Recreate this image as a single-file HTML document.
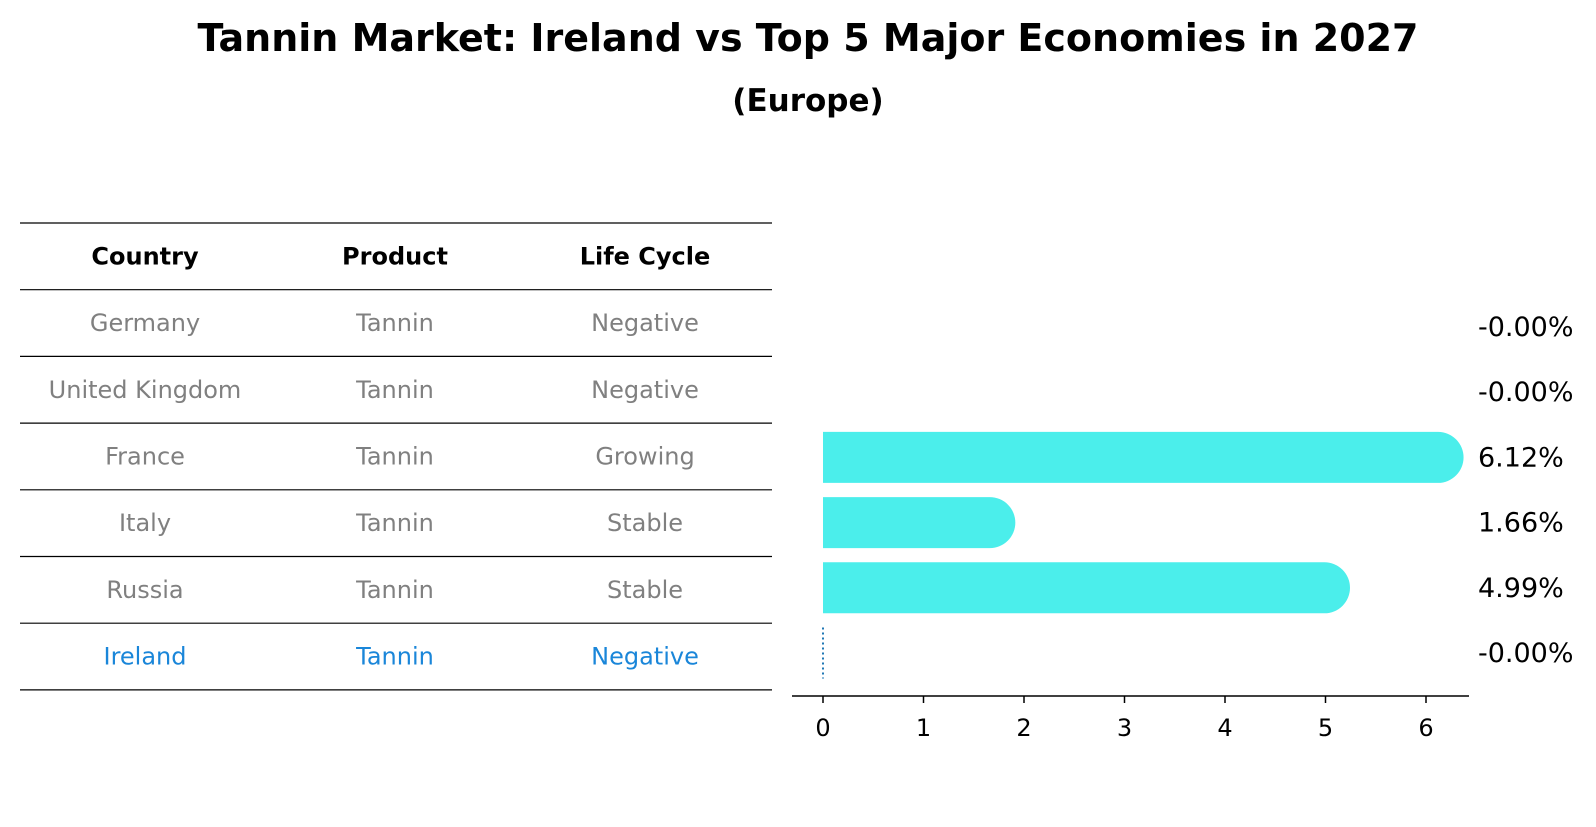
<!DOCTYPE html>
<html><head><meta charset="utf-8"><style>
body{margin:0;background:#fff;font-family:"DejaVu Sans","Liberation Sans",sans-serif}
</style></head><body>
<svg width="1596" height="823" xmlns="http://www.w3.org/2000/svg" font-family="DejaVu Sans, Liberation Sans, sans-serif">
<text x="808" y="51" text-anchor="middle" font-size="38" font-weight="bold">Tannin Market: Ireland vs Top 5 Major Economies in 2027</text>
<text x="808" y="111" text-anchor="middle" font-size="31" font-weight="bold">(Europe)</text>
<g id="table"></g>
<g id="plot"></g>
</svg>
<script>
const countries=["Germany","United Kingdom","France","Italy","Russia","Ireland"];
const products=["Tannin","Tannin","Tannin","Tannin","Tannin","Tannin"];
const lifeCycle=["Negative","Negative","Growing","Stable","Stable","Negative"];
const values=[-0.00,-0.00,6.12,1.66,4.99,-0.00];
const valueLabels=["-0.00%","-0.00%","6.12%","1.66%","4.99%","-0.00%"];
const ticks=[0,1,2,3,4,5,6];
const NS="http://www.w3.org/2000/svg";
function mk(t,a,p){const e=document.createElementNS(NS,t);for(const k in a)e.setAttribute(k,a[k]);p.appendChild(e);return e;}
const tb=document.getElementById('table');
const lineY=i=>223+i*66.7;
for(let i=0;i<8;i++){const l=mk('line',{x1:20,x2:772,y1:lineY(i),y2:lineY(i),stroke:'#000','stroke-width':1.2},tb);

}
const colX=[145,395,645];
["Country","Product","Life Cycle"].forEach((h,j)=>{const t=mk('text',{x:colX[j],y:(lineY(0)+lineY(1))/2+8,'text-anchor':'middle','font-size':24,'font-weight':'bold'},tb);t.textContent=h;

});
countries.forEach((c,i)=>{const row=[c,products[i],lifeCycle[i]];const col=c==="Ireland"?"#1a86d9":"#808080";
row.forEach((v,j)=>{const t=mk('text',{x:colX[j],y:(lineY(i+1)+lineY(i+2))/2+8,'text-anchor':'middle','font-size':24,fill:col},tb);t.textContent=v;

});});
const pl=document.getElementById('plot');
const x0=823,unit=100.5;const X=v=>x0+v*unit;
const rowY=i=>327+i*65.2;
const bh=51,r=25.5;
values.forEach((v,i)=>{const cy=rowY(i);
if(Math.abs(v)<0.005){if(countries[i]==="Ireland"){const l=mk('line',{x1:X(0),x2:X(0),y1:cy-bh/2,y2:cy+bh/2,stroke:'#1f77b4','stroke-width':2,'stroke-dasharray':'2,3'},pl);

}}
else{const p=mk('path',{d:`M${X(0)},${cy-bh/2} H${X(v)} A${r},${r} 0 0 1 ${X(v)},${cy+bh/2} H${X(0)} Z`,fill:'#4beeeb'},pl);

}
const t=mk('text',{x:1478,y:cy+9,'font-size':27},pl);t.textContent=valueLabels[i];

});
const ax=mk('line',{x1:792,x2:1469,y1:696,y2:696,stroke:'#000','stroke-width':1.5},pl);


ticks.forEach(tk=>{const l=mk('line',{x1:X(tk),x2:X(tk),y1:696,y2:703,stroke:'#000','stroke-width':1.5},pl);


const t=mk('text',{x:X(tk),y:736,'text-anchor':'middle','font-size':24},pl);t.textContent=tk;

});
</script>
</body></html>
